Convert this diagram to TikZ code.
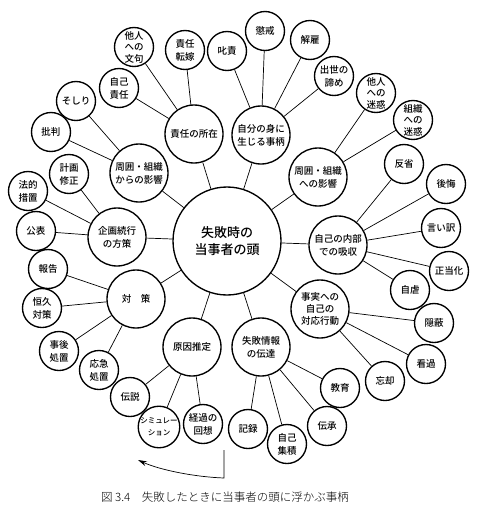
\documentclass[tikz,border=0pt]{standalone}
\usepackage{fontspec}
\setmainfont{Noto Sans CJK JP Medium}
\newfontfamily\captionfont{Noto Sans CJK JP Light}
\usetikzlibrary{arrows.meta}
\begin{document}
\begin{tikzpicture}[x=1pt, y=-1pt, font=\fontsize{9.5}{13}\selectfont,
	leaf/.style={draw, circle, line width=1.35pt, minimum size=39pt, inner sep=0pt, align=center},
	topic/.style={draw, circle, line width=1.35pt, minimum size=58pt, inner sep=0pt, align=center},
	link/.style={line width=0.7pt}]
	\useasboundingbox (0,0) rectangle (482,517);
	\node[draw, circle, line width=1.35pt, minimum size=108pt, inner sep=0pt, align=center, font=\fontsize{13}{17.5}\selectfont] (head) at (227,241) {失敗時の\\当事者の頭};

	\node[topic] (sekinin) at (194,134) {責任の所在};
	\node[topic] (jibun) at (261,135) {自分の身に\\生じる事柄};
	\node[topic] (karano) at (139,173) {周囲・組織\\からの影響};
	\node[topic] (heno) at (318,177) {周囲・組織\\への影響};
	\node[topic] (kikaku) at (117,237) {企画続行\\の方策};
	\node[topic] (naibu) at (338,245) {自己の内部\\での吸収};
	\node[topic] (taisaku) at (136,299) {対\quad 策};
	\node[topic, font=\fontsize{9.5}{12}\selectfont] (taiou) at (320,309) {事実への\\自己の\\対応行動};
	\node[topic] (genin) at (192,347) {原因推定};
	\node[topic] (dentatsu) at (261,347) {失敗情報\\の伝達};

	\node[leaf, font=\fontsize{9.5}{11.5}\selectfont] (monku) at (134,47) {他人\\への\\文句};
	\node[leaf] (tenka) at (185,50) {責任\\転嫁};
	\node[leaf] (jiko) at (119,88) {自己\\責任};
	\node[leaf] (shisseki) at (227,51) {叱責};
	\node[leaf] (choukai) at (265,31) {懲戒};
	\node[leaf] (kaiko) at (310,40) {解雇};
	\node[leaf] (akirame) at (334,76) {出世の\\諦め};
	\node[leaf, font=\fontsize{9.5}{11.5}\selectfont] (tanin) at (376,93) {他人\\への\\迷惑};
	\node[leaf, font=\fontsize{9.5}{11.5}\selectfont] (soshiki) at (413,120) {組織\\への\\迷惑};
	\node[leaf] (soshiri) at (76,101) {そしり};
	\node[leaf] (hihan) at (51,132) {批判};
	\node[leaf] (keikaku) at (69,174) {計画\\修正};
	\node[leaf] (houteki) at (28,191) {法的\\措置};
	\node[leaf] (kouhyou) at (36,231) {公表};
	\node[leaf] (houkoku) at (48,269) {報告};
	\node[leaf] (koukyuu) at (42,308) {恒久\\対策};
	\node[leaf] (jigo) at (59,351) {事後\\処置};
	\node[leaf] (oukyuu) at (99,370) {応急\\処置};
	\node[leaf] (densetsu) at (130,397) {伝説};
	\node[leaf, font=\fontsize{7.5}{12}\selectfont] (simu) at (159,427) {シミュレー\\ション};
	\node[leaf] (keika) at (203,424) {経過の\\回想};
	\node[leaf] (kiroku) at (248,429) {記録};
	\node[leaf] (shuuseki) at (287,444) {自己\\集積};
	\node[leaf] (denshou) at (327,426) {伝承};
	\node[leaf] (kyouiku) at (340,388) {教育};
	\node[leaf] (boukyaku) at (385,381) {忘却};
	\node[leaf] (kanka) at (426,364) {看過};
	\node[leaf] (inpei) at (434,323) {隠蔽};
	\node[leaf] (jigyaku) at (410,290) {自虐};
	\node[leaf] (seitou) at (449,271) {正当化};
	\node[leaf] (iiwake) at (441,228) {言い訳};
	\node[leaf] (koukai) at (446,184) {後悔};
	\node[leaf] (hansei) at (404,164) {反省};

	\foreach \t in {sekinin, jibun, karano, heno, kikaku, naibu, taisaku, taiou, genin, dentatsu}
		\draw[link] (head) -- (\t);
	\foreach \l in {monku, tenka, jiko}
		\draw[link] (sekinin) -- (\l);
	\foreach \l in {shisseki, choukai, kaiko, akirame}
		\draw[link] (jibun) -- (\l);
	\foreach \l in {soshiri, hihan}
		\draw[link] (karano) -- (\l);
	\foreach \l in {tanin, soshiki}
		\draw[link] (heno) -- (\l);
	\foreach \l in {keikaku, houteki, kouhyou}
		\draw[link] (kikaku) -- (\l);
	\foreach \l in {hansei, koukai, iiwake, seitou, jigyaku}
		\draw[link] (naibu) -- (\l);
	\foreach \l in {inpei, kanka, boukyaku}
		\draw[link] (taiou) -- (\l);
	\foreach \l in {houkoku, koukyuu, jigo, oukyuu}
		\draw[link] (taisaku) -- (\l);
	\foreach \l in {densetsu, simu, keika}
		\draw[link] (genin) -- (\l);
	\foreach \l in {kiroku, shuuseki, denshou, kyouiku}
		\draw[link] (dentatsu) -- (\l);

	\coordinate (arrowtop) at (224,450);
	\coordinate (arrowbend) at (224,478);
	\coordinate (arrowend) at (138,460);
	\draw[link, -{Stealth[length=9pt, width=5pt]}] (arrowtop) -- (arrowbend) .. controls (195,477) and (160,470) .. (arrowend);

	\node[font=\captionfont\fontsize{11.5}{14}\selectfont] (caption) at (225,497) {図 3.4\quad 失敗したときに当事者の頭に浮かぶ事柄};
\end{tikzpicture}
\end{document}
